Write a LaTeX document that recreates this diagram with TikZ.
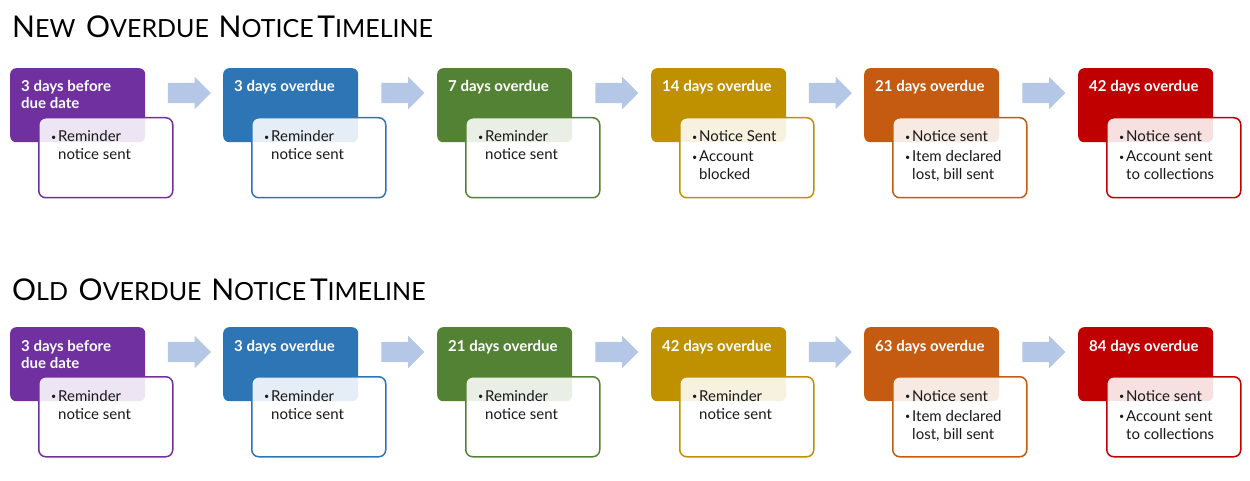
\documentclass[tikz,border=0pt]{standalone}
\usepackage{fontspec}
\setmainfont{Lato}
\usetikzlibrary{calc}
\usetikzlibrary{shapes}
\usetikzlibrary{shapes.arrows}
\definecolor{ovpurple}{HTML}{7030A0}
\definecolor{ovblue}{HTML}{2E75B6}
\definecolor{ovgreen}{HTML}{548235}
\definecolor{ovgold}{HTML}{BF9000}
\definecolor{ovorange}{HTML}{C55A11}
\definecolor{ovred}{HTML}{C00000}
\definecolor{ovarrow}{HTML}{B4C7E7}
\newcommand{\smc}[2]{{\fontsize{30}{30}\selectfont #1}{\fontsize{25}{25}\selectfont #2}}
\newcommand{\bul}{\makebox[6pt][l]{\hspace{-1pt}\raisebox{0.2ex}{\scalebox{0.6}{\textbullet}}}}
\newcommand{\hd}[1]{\begin{tabular}[t]{@{}l@{}}#1\end{tabular}}
\newcommand{\nt}[1]{\begin{tabular}[t]{@{}l@{}l@{}}#1\end{tabular}}

\begin{document}
\begin{tikzpicture}[x=1pt, y=-1pt,
  title/.style={anchor=base west, inner sep=0pt, font=\fontsize{30}{30}\selectfont},
  stage/.style={rectangle, rounded corners=6pt, minimum width=135pt, minimum height=74pt, anchor=north west, inner sep=0pt},
  stagetext/.style={anchor=base west, inner sep=0pt, text=white, font=\fontsize{15}{17}\selectfont\bfseries},
  notebox/.style={rectangle, rounded corners=7pt, draw, line width=1.5pt, fill=white, fill opacity=0.88, minimum width=134pt, minimum height=80pt, anchor=north west, inner sep=0pt},
  notetext/.style={anchor=base west, inner sep=0pt, text=black!90, font=\fontsize{15}{18}\selectfont},
  flowarrow/.style={single arrow, fill=ovarrow, inner xsep=0pt, inner ysep=10pt, minimum height=43pt, single arrow head extend=6pt}]
  \useasboundingbox (0,0) rectangle (1250,481);

  \node[title] (newtitle) at (12,38) {\smc{N}{EW}\hspace{3pt} \smc{O}{VERDUE}\hspace{2pt} \smc{N}{OTICE}\hspace{-4pt} \smc{T}{IMELINE}};

  \node[stage, fill=ovpurple] (n1) at (10,68) {};
  \node[stagetext] (n1t) at ($(n1.north west)+(11,24)$) {\hd{3 days before\\due date}};
  \node[notebox, draw=ovpurple] (n1n) at (38,117) {};
  \node[notetext] (n1b) at ($(n1n.north west)+(14,25)$) {\nt{\bul&Reminder\\&notice sent}};

  \node[stage, fill=ovblue] (n2) at (223,68) {};
  \node[stagetext] (n2t) at ($(n2.north west)+(11,24)$) {\hd{3 days overdue}};
  \node[notebox, draw=ovblue] (n2n) at (251,117) {};
  \node[notetext] (n2b) at ($(n2n.north west)+(14,25)$) {\nt{\bul&Reminder\\&notice sent}};

  \node[stage, fill=ovgreen] (n3) at (437,68) {};
  \node[stagetext] (n3t) at ($(n3.north west)+(11,24)$) {\hd{7 days overdue}};
  \node[notebox, draw=ovgreen] (n3n) at (465,117) {};
  \node[notetext] (n3b) at ($(n3n.north west)+(14,25)$) {\nt{\bul&Reminder\\&notice sent}};

  \node[stage, fill=ovgold] (n4) at (651,68) {};
  \node[stagetext] (n4t) at ($(n4.north west)+(11,24)$) {\hd{14 days overdue}};
  \node[notebox, draw=ovgold] (n4n) at (679,117) {};
  \node[notetext] (n4b) at ($(n4n.north west)+(14,25)$) {\nt{\bul&Notice Sent\\[2pt]\bul&Account\\&blocked}};

  \node[stage, fill=ovorange] (n5) at (864,68) {};
  \node[stagetext] (n5t) at ($(n5.north west)+(11,24)$) {\hd{21 days overdue}};
  \node[notebox, draw=ovorange] (n5n) at (892,117) {};
  \node[notetext] (n5b) at ($(n5n.north west)+(14,25)$) {\nt{\bul&Notice sent\\[2pt]\bul&Item declared\\&lost, bill sent}};

  \node[stage, fill=ovred] (n6) at (1078,68) {};
  \node[stagetext] (n6t) at ($(n6.north west)+(11,24)$) {\hd{42 days overdue}};
  \node[notebox, draw=ovred] (n6n) at (1106,117) {};
  \node[notetext] (n6b) at ($(n6n.north west)+(14,25)$) {\nt{\bul&Notice sent\\[2pt]\bul&Account sent\\&to collections}};

  \node[flowarrow] (na1) at ($(n1.north east)!0.5!(n2.north west)+(0,25)$) {};
  \node[flowarrow] (na2) at ($(n2.north east)!0.5!(n3.north west)+(0,25)$) {};
  \node[flowarrow] (na3) at ($(n3.north east)!0.5!(n4.north west)+(0,25)$) {};
  \node[flowarrow] (na4) at ($(n4.north east)!0.5!(n5.north west)+(0,25)$) {};
  \node[flowarrow] (na5) at ($(n5.north east)!0.5!(n6.north west)+(0,25)$) {};

  \node[title] (oldtitle) at (12,300) {\smc{O}{LD}\hspace{3pt} \smc{O}{VERDUE}\hspace{2pt} \smc{N}{OTICE}\hspace{-4pt} \smc{T}{IMELINE}};

  \node[stage, fill=ovpurple] (o1) at (10,327) {};
  \node[stagetext] (o1t) at ($(o1.north west)+(11,24)$) {\hd{3 days before\\due date}};
  \node[notebox, draw=ovpurple] (o1n) at (38,376) {};
  \node[notetext] (o1b) at ($(o1n.north west)+(14,25)$) {\nt{\bul&Reminder\\&notice sent}};

  \node[stage, fill=ovblue] (o2) at (223,327) {};
  \node[stagetext] (o2t) at ($(o2.north west)+(11,24)$) {\hd{3 days overdue}};
  \node[notebox, draw=ovblue] (o2n) at (251,376) {};
  \node[notetext] (o2b) at ($(o2n.north west)+(14,25)$) {\nt{\bul&Reminder\\&notice sent}};

  \node[stage, fill=ovgreen] (o3) at (437,327) {};
  \node[stagetext] (o3t) at ($(o3.north west)+(11,24)$) {\hd{21 days overdue}};
  \node[notebox, draw=ovgreen] (o3n) at (465,376) {};
  \node[notetext] (o3b) at ($(o3n.north west)+(14,25)$) {\nt{\bul&Reminder\\&notice sent}};

  \node[stage, fill=ovgold] (o4) at (651,327) {};
  \node[stagetext] (o4t) at ($(o4.north west)+(11,24)$) {\hd{42 days overdue}};
  \node[notebox, draw=ovgold] (o4n) at (679,376) {};
  \node[notetext] (o4b) at ($(o4n.north west)+(14,25)$) {\nt{\bul&Reminder\\&notice sent}};

  \node[stage, fill=ovorange] (o5) at (864,327) {};
  \node[stagetext] (o5t) at ($(o5.north west)+(11,24)$) {\hd{63 days overdue}};
  \node[notebox, draw=ovorange] (o5n) at (892,376) {};
  \node[notetext] (o5b) at ($(o5n.north west)+(14,25)$) {\nt{\bul&Notice sent\\[2pt]\bul&Item declared\\&lost, bill sent}};

  \node[stage, fill=ovred] (o6) at (1078,327) {};
  \node[stagetext] (o6t) at ($(o6.north west)+(11,24)$) {\hd{84 days overdue}};
  \node[notebox, draw=ovred] (o6n) at (1106,376) {};
  \node[notetext] (o6b) at ($(o6n.north west)+(14,25)$) {\nt{\bul&Notice sent\\[2pt]\bul&Account sent\\&to collections}};

  \node[flowarrow] (oa1) at ($(o1.north east)!0.5!(o2.north west)+(0,25)$) {};
  \node[flowarrow] (oa2) at ($(o2.north east)!0.5!(o3.north west)+(0,25)$) {};
  \node[flowarrow] (oa3) at ($(o3.north east)!0.5!(o4.north west)+(0,25)$) {};
  \node[flowarrow] (oa4) at ($(o4.north east)!0.5!(o5.north west)+(0,25)$) {};
  \node[flowarrow] (oa5) at ($(o5.north east)!0.5!(o6.north west)+(0,25)$) {};
\end{tikzpicture}
\end{document}
